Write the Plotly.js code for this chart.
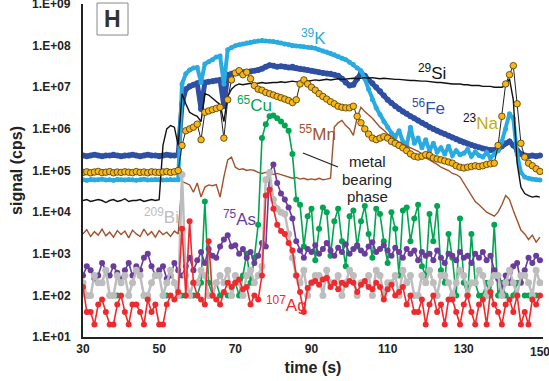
<!DOCTYPE html>
<html>
<head>
<meta charset="utf-8">
<script src="https://cdn.plot.ly/plotly-3.0.1.min.js"></script>
<style>
  html, body { margin: 0; padding: 0; background: #fff; }
  #chart { width: 549px; height: 381px; }
</style>
</head>
<body>
<div id="chart"></div>
<script>
// acquisition grid: one reading per second from 30 s to 150 s
const tStart = 30, tStep = 1, nPts = 121;
const time = [];
for (let i = 0; i < nPts; i++) time.push(tStart + i * tStep);

// signal (cps), t = 30 ... 150 s
const fe56 = [
  2.3e5,2.2e5,2.3e5,2.4e5,2.3e5,2.2e5,2.3e5,2.3e5,2.4e5,2.3e5,
  2.2e5,2.3e5,2.3e5,2.4e5,2.3e5,2.2e5,2.3e5,2.4e5,2.3e5,2.3e5,
  2.2e5,2.3e5,2.4e5,2.3e5,2.3e5,2.4e5,4.0e6,9.0e6,1.05e7,1.15e7,
  1.25e7,3.0e6,1.3e7,1.35e7,1.4e7,1.45e7,1.5e7,3.5e6,2.0e7,2.1e7,
  2.2e7,2.25e7,2.3e7,2.35e7,2.4e7,2.5e7,2.6e7,2.8e7,3.1e7,3.4e7,
  3.3e7,3.1e7,3.2e7,3.1e7,3.0e7,3.1e7,2.9e7,2.8e7,2.7e7,2.6e7,
  2.5e7,2.4e7,2.3e7,2.2e7,2.15e7,2.1e7,2.0e7,1.9e7,1.6e7,1.3e7,
  1.1e7,1.15e7,1.6e7,2.2e7,1.9e7,1.5e7,1.25e7,1.0e7,8.0e6,6.3e6,
  5.0e6,4.2e6,3.5e6,3.0e6,2.6e6,2.3e6,2.0e6,1.8e6,1.6e6,1.4e6,
  1.25e6,1.1e6,1.0e6,9.0e5,8.2e5,7.5e5,6.8e5,6.2e5,5.6e5,5.1e5,
  4.7e5,4.4e5,4.1e5,3.8e5,3.6e5,3.4e5,3.2e5,3.1e5,3.1e5,3.3e5,
  3.8e5,4.5e5,5.0e5,4.0e5,3.0e5,2.5e5,2.3e5,2.2e5,2.3e5,2.2e5,
  2.3e5
];
const k39 = [
  6.0e4,5.8e4,6.1e4,5.9e4,6.0e4,6.2e4,5.9e4,6.0e4,5.8e4,6.1e4,
  6.0e4,5.9e4,6.1e4,6.0e4,5.8e4,6.0e4,6.2e4,5.9e4,6.0e4,6.1e4,
  6.0e4,5.9e4,6.0e4,6.1e4,6.0e4,6.0e4,1.2e7,2.1e7,2.6e7,2.9e7,
  3.0e7,1.3e7,3.6e7,4.1e7,4.6e7,5.3e7,5.6e7,1.2e7,8.0e7,9.0e7,
  1.0e8,1.05e8,1.1e8,1.15e8,1.2e8,1.25e8,1.3e8,1.32e8,1.3e8,1.28e8,
  1.25e8,1.2e8,1.15e8,1.1e8,1.05e8,1.0e8,9.8e7,9.6e7,9.4e7,9.2e7,
  9.0e7,8.6e7,8.0e7,7.4e7,7.0e7,6.6e7,6.0e7,5.5e7,5.0e7,4.6e7,
  4.0e7,3.5e7,2.9e7,2.5e7,1.6e7,9.0e6,5.0e6,3.2e6,2.2e6,1.5e6,
  1.1e6,8.0e5,6.5e5,9.0e5,5.0e5,4.0e5,1.1e6,4.5e5,6.0e5,3.5e5,
  5.5e5,3.0e5,4.5e5,2.8e5,3.5e5,2.5e5,3.8e5,2.3e5,3.0e5,2.4e5,
  2.6e5,3.2e5,2.2e5,2.8e5,2.3e5,2.1e5,2.7e5,2.0e5,2.5e5,3.0e5,
  5.0e5,1.0e6,2.3e6,1.8e6,2.5e5,9.0e4,7.0e4,6.5e4,6.2e4,6.0e4,
  5.9e4
];
const si29 = [
  1.9e4,2.0e4,1.8e4,1.9e4,2.0e4,1.9e4,1.7e4,1.9e4,2.0e4,1.8e4,
  1.9e4,2.1e4,1.8e4,1.9e4,1.9e4,2.0e4,1.8e4,1.9e4,2.0e4,1.9e4,
  2.0e4,4.0e5,1.0e6,1.2e6,1.1e6,4.0e5,7.0e6,4.0e6,2.5e6,2.2e6,
  2.0e6,1.5e6,7.0e6,6.5e6,5.5e6,4.5e6,3.8e6,1.5e6,6.0e6,9.0e6,
  1.1e7,1.2e7,1.15e7,1.2e7,1.25e7,1.2e7,1.25e7,1.3e7,1.25e7,1.3e7,
  1.3e7,1.3e7,1.35e7,1.3e7,1.35e7,1.4e7,1.35e7,1.4e7,1.45e7,1.4e7,
  1.45e7,1.5e7,1.45e7,1.5e7,1.55e7,1.5e7,1.55e7,1.6e7,1.55e7,1.6e7,
  1.6e7,1.65e7,1.6e7,1.65e7,1.7e7,1.65e7,1.7e7,1.65e7,1.6e7,1.65e7,
  1.6e7,1.6e7,1.55e7,1.55e7,1.5e7,1.5e7,1.45e7,1.45e7,1.4e7,1.4e7,
  1.4e7,1.35e7,1.35e7,1.3e7,1.3e7,1.25e7,1.25e7,1.2e7,1.2e7,1.2e7,
  1.15e7,1.15e7,1.1e7,1.1e7,1.1e7,1.05e7,1.05e7,1.05e7,1.0e7,1.0e7,
  1.0e7,1.1e7,1.6e7,5.0e6,1.5e5,4.0e4,2.8e4,2.5e4,2.3e4,2.4e4,
  2.3e4
];
const na23 = [
  9.0e4,9.3e4,8.8e4,9.2e4,9.5e4,8.9e4,9.1e4,9.4e4,8.8e4,9.2e4,
  9.0e4,9.3e4,9.1e4,8.9e4,9.4e4,9.0e4,9.2e4,8.8e4,9.3e4,9.1e4,
  9.0e4,9.2e4,9.4e4,9.0e4,9.3e4,1.0e5,4.0e5,9.0e5,1.0e6,1.1e6,
  1.3e6,5.5e5,2.5e6,2.7e6,2.9e6,3.1e6,3.3e6,6.0e5,5.0e6,1.5e7,
  2.2e7,2.5e7,2.0e7,2.3e7,1.6e7,1.1e7,9.0e6,8.5e6,7.5e6,7.0e6,
  6.5e6,6.0e6,5.6e6,5.2e6,4.8e6,4.3e6,5.0e6,1.2e7,1.5e7,1.2e7,
  1.0e7,8.5e6,7.0e6,6.0e6,5.2e6,4.5e6,4.0e6,3.5e6,3.3e6,3.2e6,
  3.2e6,3.5e6,2.0e6,1.4e6,1.0e6,7.5e5,6.0e5,5.5e5,6.0e5,6.5e5,
  6.0e5,5.0e5,4.5e5,4.0e5,3.5e5,3.0e5,2.5e5,2.2e5,2.1e5,2.2e5,
  2.4e5,2.3e5,2.0e5,1.9e5,1.8e5,1.7e5,1.6e5,1.5e5,1.3e5,1.2e5,
  1.15e5,1.2e5,1.25e5,1.3e5,1.25e5,1.3e5,1.4e5,1.45e5,1.5e5,4.0e5,
  2.0e6,1.2e7,2.0e7,3.3e7,4.0e6,4.5e5,2.1e5,1.5e5,1.3e5,1.1e5,
  9.5e4
];
const mn55 = [
  3.0e3,3.8e3,2.6e3,3.4e3,2.8e3,3.9e3,2.7e3,3.3e3,2.5e3,3.6e3,
  2.9e3,3.5e3,2.4e3,3.7e3,3.0e3,2.6e3,3.9e3,2.8e3,3.4e3,2.5e3,
  3.6e3,2.9e3,3.3e3,2.6e3,3.5e3,3.0e3,5.5e4,5.0e4,4.5e4,3.0e4,
  5.0e4,2.3e4,4.0e4,4.5e4,4.3e4,4.6e4,2.3e4,7.0e4,1.8e5,2.1e5,
  1.2e5,1.05e5,1.1e5,1.0e5,1.05e5,1.0e5,9.0e4,8.5e4,9.0e4,8.5e4,
  8.0e4,8.5e4,8.0e4,7.5e4,7.0e4,6.5e4,6.8e4,6.2e4,6.5e4,6.0e4,
  6.3e4,6.0e4,6.5e4,6.0e4,6.2e4,6.5e4,1.1e6,1.4e6,1.6e6,1.2e6,
  1.0e6,7.0e5,1.9e6,3.3e6,2.6e6,2.2e6,1.8e6,1.4e6,1.1e6,9.3e5,
  7.5e5,6.5e5,5.5e5,4.8e5,4.3e5,3.9e5,3.5e5,3.2e5,2.9e5,2.5e5,
  2.0e5,1.8e5,1.6e5,1.4e5,1.2e5,1.1e5,1.0e5,8.5e4,8.0e4,7.0e4,
  5.0e4,3.5e4,2.5e4,1.8e4,1.5e4,1.2e4,1.0e4,9.0e3,8.0e3,1.0e4,
  1.5e4,2.5e4,2.0e4,1.1e4,6.0e3,3.7e3,3.0e3,2.2e3,2.8e3,1.9e3,
  2.5e3
];
const cu65 = [
  null,null,null,null,null,null,null,null,null,1.0e2,
  null,null,1.0e2,null,null,null,1.0e2,null,null,null,
  null,null,1.0e2,null,null,null,1.0e2,1.0e2,null,1.0e2,
  1.0e2,2.0e2,1.8e4,2.0e2,1.0e2,2.0e2,1.0e2,null,1.0e2,1.0e2,
  2.0e2,1.0e2,3.0e2,1.0e3,2.0e2,8.0e2,5.0e3,6.0e5,1.3e6,2.0e6,
  2.1e6,1.8e6,1.5e6,1.2e6,9.0e5,2.5e5,2.0e4,1.5e4,1.5e3,8.0e3,
  1.2e4,7.0e2,4.0e3,1.3e4,1.0e4,9.0e2,6.0e3,1.2e4,2.0e3,5.0e2,
  8.0e3,1.1e4,1.5e3,6.0e3,1.4e4,3.0e3,8.0e2,1.2e4,9.0e3,2.0e3,
  6.0e2,1.0e4,4.0e3,3.0e2,1.1e4,1.3e4,2.0e3,7.0e3,1.5e4,5.0e2,
  3.0e2,9.0e3,2.0e3,1.4e4,4.0e2,2.0e2,3.0e3,8.0e2,1.0e2,7.0e3,
  2.0e2,1.0e2,3.0e3,2.0e2,1.0e2,1.0e2,2.0e2,1.0e2,5.0e3,1.0e2,
  2.0e2,1.0e2,null,1.0e2,2.0e2,null,1.0e2,1.0e2,null,1.0e2,
  null
];
const as75 = [
  3.0e2,5.0e2,4.0e2,2.5e2,3.0e2,6.0e2,4.0e2,3.0e2,5.0e2,3.5e2,
  2.5e2,4.0e2,6.0e2,3.0e2,5.0e2,4.0e2,8.0e2,1.0e3,5.0e2,3.0e2,
  4.0e2,5.0e2,2.5e2,3.0e2,6.0e2,4.0e2,3.0e2,5.0e2,8.0e2,4.0e2,
  7.0e2,1.1e3,6.0e2,1.3e3,9.0e2,8.0e2,1.5e3,2.2e3,2.8e3,1.5e3,
  1.6e3,1.0e3,1.3e3,8.0e2,1.1e3,6.0e2,9.0e2,1.8e3,1.5e3,9.0e4,
  1.4e5,5.0e4,2.8e4,2.0e4,1.3e4,7.0e3,2.0e3,1.2e3,8.0e2,1.3e3,
  1.1e3,1.6e3,1.0e3,1.3e3,1.8e3,1.2e3,9.0e2,1.4e3,1.1e3,1.7e3,
  1.0e3,1.3e3,1.6e3,1.2e3,1.0e3,1.5e3,1.9e3,1.1e3,1.3e3,1.6e3,
  1.2e3,9.0e2,1.4e3,1.1e3,8.0e2,1.3e3,1.0e3,1.2e3,7.0e2,1.1e3,
  9.0e2,1.0e3,7.0e2,1.2e3,8.0e2,6.0e2,1.0e3,9.0e2,7.0e2,1.1e3,
  8.0e2,9.0e2,6.0e2,1.0e3,8.0e2,1.1e3,7.0e2,9.0e2,4.0e2,2.5e2,
  1.5e2,3.0e2,2.0e2,5.0e2,6.0e2,2.0e2,4.0e2,8.0e2,6.0e2,9.0e2,
  7.0e2
];
const bi209 = [
  2e2,1e2,1e2,3e2,2e2,2e2,4e2,1e2,1e2,3e2,
  2e2,3e2,1e2,2e2,4e2,3e2,1e2,1e2,2e2,3e2,
  3e2,1e2,2e2,4e2,2e2,1e2,8e4,3e2,1e2,2e2,
  2e2,4e2,3e2,1e2,1e2,2e2,3e2,2e2,4e2,1e2,
  3e2,2e2,1e2,3e2,4e2,2e2,3e2,5e2,6e4,9e4,
  2e4,1.2e4,1.0e4,9e3,3e3,8e2,3e2,2e2,4e2,1e2,
  2e2,3e2,3e2,1e2,4e2,2e2,2e2,3e2,1e2,2e2,
  4e2,3e2,1e2,2e2,2e2,3e2,1e2,4e2,3e2,1e2,
  2e2,2e2,3e2,1e2,4e2,2e2,3e2,1e2,1e2,3e2,
  2e2,4e2,2e2,1e2,3e2,3e2,2e2,1e2,2e2,4e2,
  3e2,1e2,2e2,2e2,4e2,3e2,1e2,2e2,3e2,3e2,
  1e2,2e2,4e2,2e2,1e2,3e2,3e2,2e2,1e2,4e2,
  2e2
];
const ag107 = [
  1.6e2,4e1,4e1,2e1,6e1,8e1,4e1,2e1,2e1,6e1,
  1e2,4e1,2e1,6e1,6e1,4e1,2e1,8e1,4e1,6e1,
  2e1,2e1,6e1,1e2,8e1,1.2e2,4e3,1e2,6e3,2e2,
  1e2,8e1,6e1,2e3,1e2,8e1,6e1,1.2e2,2e2,1.6e2,
  2e2,2.4e2,1.4e2,1.6e2,6e1,1e2,8e1,3e2,2.5e4,3.5e4,
  1.2e4,5e3,3.5e3,3e3,1.8e3,1.2e3,3e2,1.2e2,4e1,1.5e2,
  2e2,2.2e2,1.8e2,2.4e2,2.6e2,1.6e2,2e2,1.4e2,2e2,1.8e2,
  2.2e2,2e2,1.2e2,1.8e2,2.2e2,1.6e2,1.4e2,2e2,1.6e2,8e1,
  1.4e2,1.8e2,1e2,1.2e2,1.6e2,6e1,1e2,4e1,4e1,8e1,
  2e1,6e1,1e2,4e1,6e1,2e1,8e1,8e1,4e1,2e1,
  6e1,1e2,4e1,2e1,6e1,8e1,2e1,1.2e2,6e1,4e1,
  2e1,6e1,8e1,4e1,1e2,2e1,4e1,2e1,8e1,6e1,
  1e2
];

// axis ticks
const yTickVals = [1e1,1e2,1e3,1e4,1e5,1e6,1e7,1e8,1e9];
const yTickText = ['1.E+01','1.E+02','1.E+03','1.E+04','1.E+05','1.E+06','1.E+07','1.E+08','1.E+09'];
const xTickVals = [30,50,70,90,110,130,150];

// layout helpers (pixel -> paper)
const L = 83, R = 543, T = 4, B = 337;
const X0 = 30, X1 = 150.8, Y0 = 1, Y1 = 9.0;
const PX = p => (p - L) / (R - L);
const PY = p => (B - p) / (B - T);

const FONT = 'Arial, "Liberation Sans", sans-serif';

function tr(y, color, opts) {
  return Object.assign({ x: time, y: y, type: 'scatter', hoverinfo: 'skip' }, opts, {
    line: Object.assign({ color: color }, opts.line || {}),
    marker: Object.assign({ color: color }, opts.marker || {})
  });
}

const data = [
  tr(fe56, '#2E4FA2', { mode: 'lines+markers', line: { width: 5 }, marker: { size: 6 } }),
  tr(k39, '#29ABE2', { mode: 'lines+markers', line: { width: 4 }, marker: { size: 5 } }),
  tr(si29, '#111111', { mode: 'lines', line: { width: 1.4 } }),
  tr(mn55, '#A0522D', { mode: 'lines', line: { width: 1.4 } }),
  tr(cu65, '#00A651', { mode: 'lines+markers', line: { width: 1.6 }, marker: { size: 6 } }),
  tr(as75, '#6A3C9C', { mode: 'lines+markers', line: { width: 1.6 }, marker: { size: 6 } }),
  tr(bi209, '#BDBDBD', { mode: 'lines+markers', line: { width: 2.5 }, marker: { size: 7 } }),
  tr(ag107, '#EE2A2F', { mode: 'lines+markers', line: { width: 1.6 }, marker: { size: 6 } }),
  { x: time, y: na23, type: 'scatter', mode: 'lines+markers', hoverinfo: 'skip',
    line: { color: '#222222', width: 1 },
    marker: { size: 6.5, color: '#F7B718', line: { color: '#4a3500', width: 0.8 } } }
];

function lab(px, py, text, color, size, weight) {
  return { xref: 'paper', yref: 'paper', x: PX(px), y: PY(py), xanchor: 'center', yanchor: 'middle',
           text: text, showarrow: false,
           font: { family: FONT, size: size || 17, color: color, weight: weight || 'normal' } };
}

const annotations = [
  lab(313, 37, '<sup>39</sup>K', '#29ABE2'),
  lab(432, 72, '<sup>29</sup>Si', '#111111'),
  lab(428, 107, '<sup>56</sup>Fe', '#2E4FA2'),
  lab(481, 122, '<sup style="color:#111">23</sup>Na', '#C2AC12'),
  lab(254, 104, '<sup>65</sup>Cu', '#00A651'),
  lab(317, 133, '<sup>55</sup>Mn', '#A0522D'),
  lab(161, 216, '<sup>209</sup>Bi', '#BDBDBD'),
  lab(239, 218, '<sup>75</sup>As', '#6A3C9C'),
  lab(286, 304, '<sup>107</sup>Ag', '#EE2A2F'),
  lab(367, 161, 'metal', '#222222', 15),
  lab(367, 179, 'bearing', '#222222', 15),
  lab(367, 197, 'phase', '#222222', 15),
  lab(112.5, 19, 'H', '#333333', 23, 'bold'),
  // edge tick labels that sit on the border of the picture
  { xref: 'paper', yref: 'paper', x: PX(73), y: PY(4), xanchor: 'right', yanchor: 'middle',
    text: yTickText[8], showarrow: false, font: { family: FONT, size: 12, weight: 'bold', color: '#222222' } },
  { xref: 'paper', yref: 'paper', x: PX(540), y: PY(352), xanchor: 'center', yanchor: 'middle',
    text: String(xTickVals[6]), showarrow: false, font: { family: FONT, size: 12, weight: 'bold', color: '#222222' } }
];

const shapes = [
  { type: 'rect', xref: 'paper', yref: 'paper', x0: PX(97), x1: PX(128), y0: PY(35), y1: PY(3),
    line: { color: '#888888', width: 1 }, fillcolor: 'rgba(0,0,0,0)' },
  { type: 'line', xref: 'paper', yref: 'paper', x0: PX(303), y0: PY(153), x1: PX(338), y1: PY(167),
    line: { color: '#222222', width: 1.2 } }
];

const layout = {
  width: 549, height: 381,
  margin: { l: L, r: 549 - R, t: T, b: 381 - B, pad: 0 },
  paper_bgcolor: '#ffffff', plot_bgcolor: '#ffffff',
  showlegend: false,
  font: { family: FONT, color: '#222222' },
  xaxis: {
    range: [X0, X1], tickvals: xTickVals.slice(0, 6), ticks: '', showgrid: false, zeroline: false,
    showline: true, linecolor: '#222222', linewidth: 2,
    tickfont: { family: FONT, size: 12, weight: 'bold', color: '#222222' },
    title: { text: 'time (s)', font: { family: FONT, size: 16, weight: 'bold', color: '#222222' }, standoff: 6 }
  },
  yaxis: {
    type: 'log', range: [Y0, Y1], tickvals: yTickVals.slice(0, 8), ticktext: yTickText.slice(0, 8), ticks: '',
    showgrid: false, zeroline: false, showline: true, linecolor: '#222222', linewidth: 2,
    ticklabelstandoff: 8,
    tickfont: { family: FONT, size: 12, weight: 'bold', color: '#222222' },
    title: { text: 'signal (cps)', font: { family: FONT, size: 16, weight: 'bold', color: '#222222' }, standoff: 6 }
  },
  annotations: annotations,
  shapes: shapes
};

Plotly.newPlot('chart', data, layout, { staticPlot: true, displayModeBar: false });
</script>
</body>
</html>
